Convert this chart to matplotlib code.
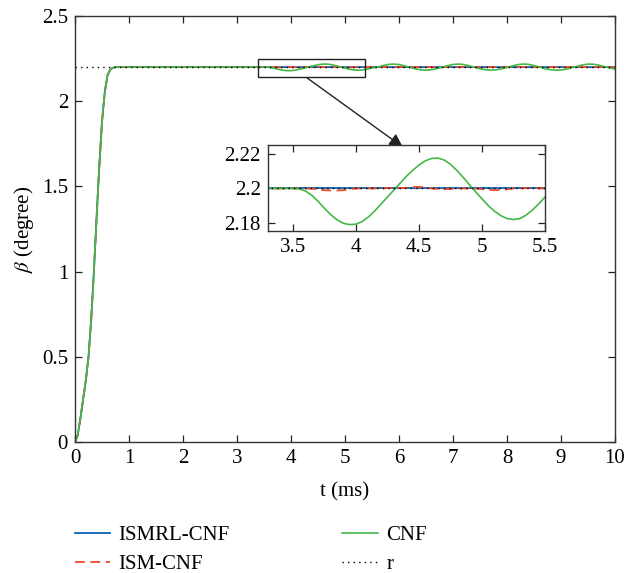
import numpy as np
import matplotlib
matplotlib.use("Agg")
import matplotlib.pyplot as plt
from matplotlib.patches import Rectangle

plt.rcParams['font.family'] = ['Liberation Serif', 'DejaVu Serif']
plt.rcParams['mathtext.fontset'] = 'stix'
plt.rcParams['font.size'] = 15

# --- time grid (ms) ---
t_rise = [0.0, 0.05, 0.1, 0.15, 0.2, 0.25, 0.3, 0.35, 0.4, 0.45, 0.5,
          0.55, 0.6, 0.65, 0.7, 0.75, 0.8, 1.0, 2.0, 3.0]
t_zoom = [round(3.3 + 0.05 * i, 2) for i in range(45)]      # 3.30 .. 5.50
t_late = [round(5.6 + 0.1 * i, 1) for i in range(45)]       # 5.6 .. 10.0

# --- step response, common to all controllers ---
beta_rise = [0.0, 0.04, 0.14, 0.25, 0.36, 0.5, 0.72, 1.0, 1.32, 1.62, 1.88,
             2.05, 2.15, 2.185, 2.196, 2.2, 2.2, 2.2, 2.2, 2.2]

# --- CNF: disturbance shows up after ~3.5 ms ---
cnf_zoom = [2.2, 2.2, 2.2, 2.2, 2.2, 2.1998, 2.1985, 2.196, 2.1925, 2.1885,
            2.1848, 2.1818, 2.1798, 2.179, 2.1793, 2.1808, 2.1835, 2.187,
            2.191, 2.195, 2.199, 2.203, 2.207, 2.2105, 2.2135, 2.216,
            2.2174, 2.2176, 2.2165, 2.214, 2.2105, 2.2065, 2.2022, 2.198,
            2.194, 2.19, 2.1868, 2.1842, 2.1825, 2.182, 2.1825, 2.1845,
            2.1875, 2.191, 2.195]
cnf_late = [2.1995, 2.2085, 2.2155, 2.2178, 2.215, 2.2075, 2.1985, 2.19,
            2.184, 2.182, 2.1845, 2.191, 2.1995, 2.2085, 2.2155, 2.218,
            2.215, 2.2075, 2.199, 2.1905, 2.1845, 2.182, 2.184, 2.19, 2.198,
            2.207, 2.2145, 2.2178, 2.216, 2.209, 2.2005, 2.1915, 2.185,
            2.182, 2.183, 2.188, 2.196, 2.205, 2.213, 2.2175, 2.217, 2.2115,
            2.2035, 2.195, 2.188]

# --- ISM-CNF: small residual ripple ---
ism_zoom = [2.2, 2.2, 2.2, 2.2, 2.2, 2.2, 2.2, 2.1998, 2.1994, 2.199,
            2.1988, 2.1988, 2.199, 2.1995, 2.2, 2.2, 2.2, 2.2, 2.2, 2.2002,
            2.2003, 2.2002, 2.2004, 2.2008, 2.2009, 2.2006, 2.2, 2.1997,
            2.1996, 2.1997, 2.1999, 2.2, 2.2, 2.1999, 2.1996, 2.1992, 2.199,
            2.1991, 2.1995, 2.2, 2.2, 2.2002, 2.2002, 2.2001, 2.2]
ism_late = [2.2] * len(t_late)

# --- ISMRL-CNF: holds the reference ---
ismrl_zoom = [2.2] * len(t_zoom)
ismrl_late = [2.2] * len(t_late)

r_t = [0.0, 10.0]
r_val = [2.2, 2.2]

t = np.array(t_rise + t_zoom + t_late)
beta_ismrl = np.array(beta_rise + ismrl_zoom + ismrl_late)
beta_ism = np.array(beta_rise + ism_zoom + ism_late)
beta_cnf = np.array(beta_rise + cnf_zoom + cnf_late)

c_blue = '#0b63b8'
c_red = '#ee4a2c'
c_green = '#45b845'


def draw_lines(ax):
    ax.plot(t, beta_ismrl, color=c_blue, lw=1.3, label='ISMRL-CNF')
    ax.plot(t, beta_ism, color=c_red, lw=1.3, ls=(0, (5.5, 3)), label='ISM-CNF')
    ax.plot(t, beta_cnf, color=c_green, lw=1.2, label='CNF')
    ax.plot(r_t, r_val, color='black', lw=1.0, ls=(0, (1, 3)), label='r')


def style_axes(ax):
    ax.tick_params(direction='in', top=True, right=True, length=5,
                   width=0.9, color='#222222', pad=5)
    for s in ax.spines.values():
        s.set_linewidth(1.0)
        s.set_color('#333333')


fig = plt.figure(figsize=(6.24, 5.73), dpi=100)
ax = fig.add_axes([0.1202, 0.2286, 0.8654, 0.7435])
draw_lines(ax)
ax.set_xlim(0, 10)
ax.set_ylim(0, 2.5)
ax.set_xticks(range(0, 11))
ax.set_yticks([0, 0.5, 1, 1.5, 2, 2.5])
ax.set_yticklabels(['0', '0.5', '1', '1.5', '2', '2.5'])
ax.set_xlabel('t (ms)', labelpad=10)
ax.set_ylabel(r'$\beta$ (degree)', labelpad=4)
style_axes(ax)

# zoom window and arrow
ax.add_patch(Rectangle((3.39, 2.142), 1.98, 0.107, fill=False,
                       edgecolor='#222222', lw=1.0, zorder=5))
ax.annotate('', xy=(6.07, 1.731), xytext=(4.30, 2.136),
            arrowprops=dict(arrowstyle='-|>', color='#222222', lw=1.0,
                            mutation_scale=20, shrinkA=0, shrinkB=0))

# inset
axi = fig.add_axes([0.429, 0.5974, 0.4444, 0.1496])
draw_lines(axi)
axi.set_xlim(3.3, 5.5)
axi.set_ylim(2.1755, 2.2252)
axi.set_xticks([3.5, 4, 4.5, 5, 5.5])
axi.set_xticklabels(['3.5', '4', '4.5', '5', '5.5'])
axi.set_yticks([2.18, 2.2, 2.22])
axi.set_yticklabels(['2.18', '2.2', '2.22'])
style_axes(axi)

handles, labels = ax.get_legend_handles_labels()
fig.legend(handles, labels, ncol=2, loc='upper left',
           bbox_to_anchor=(0.09, 0.116), frameon=False,
           handlelength=1.7, handletextpad=0.4, columnspacing=5.4,
           labelspacing=0.45, fontsize=15)

fig.savefig('out.png', dpi=100)
